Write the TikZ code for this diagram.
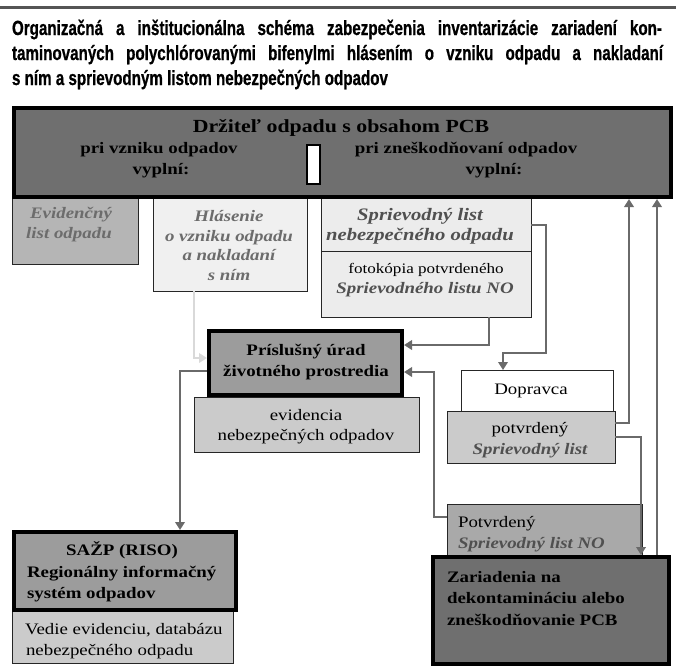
\documentclass[tikz,border=0pt]{standalone}
\usepackage{fontspec}
\setmainfont{Liberation Serif}
\newfontfamily\serifx{Liberation Serif}[FakeStretch=1.18]
\newfontfamily\titlefont{Liberation Sans Bold}[FakeStretch=0.74,FakeBold=0.7]
\usetikzlibrary{arrows.meta,fit}
\definecolor{dkfill}{HTML}{6F6F6F}
\definecolor{mdfill}{HTML}{9C9C9C}
\definecolor{evfill}{HTML}{B5B5B5}
\definecolor{hlfill}{HTML}{F0F0F0}
\definecolor{spfill}{HTML}{ECECEC}
\definecolor{ltfill}{HTML}{CBCBCB}
\definecolor{nofill}{HTML}{A9A9A9}
\definecolor{evtext}{HTML}{6C6C6C}
\definecolor{sptext}{HTML}{505050}
\definecolor{argray}{HTML}{6A6A6A}
\definecolor{lightar}{HTML}{D9D9D9}
\definecolor{rulegray}{HTML}{555555}
\tikzset{
  tnbox/.style={draw=black!85, line width=0.9pt, inner sep=0pt, outer sep=0pt},
  tkbox/.style={draw=black, line width=4pt, inner sep=0pt},
  lbl/.style={anchor=base, inner sep=0pt, outer sep=0pt},
  bfbig/.style={lbl, font=\serifx\bfseries\fontsize{18.5}{20}\selectfont},
  bf/.style={lbl, font=\serifx\bfseries\fontsize{16}{18}\selectfont},
  bi/.style={lbl, font=\serifx\bfseries\itshape\fontsize{16}{18}\selectfont},
  bibig/.style={lbl, font=\serifx\bfseries\itshape\fontsize{17.5}{19}\selectfont},
  rm/.style={lbl, font=\serifx\fontsize{16}{18}\selectfont},
  rmsmall/.style={lbl, font=\serifx\fontsize{14.5}{16}\selectfont},
  ttl/.style={anchor=base west, inner sep=0pt, outer sep=0pt, font=\titlefont\fontsize{20.5}{22}\selectfont},
  arr/.style={draw=argray, line width=2.6pt, -{Triangle[length=8pt,width=9.5pt]}},
  lightarr/.style={arr, draw=lightar},
}
\begin{document}
\begin{tikzpicture}[x=1pt,y=-1pt]
\useasboundingbox (0,0) rectangle (676,670);
% top rule
\draw[line width=3pt, rulegray] (0,7.5) -- (676,7.5);
% title
\node[ttl] (ti1) at (12,35) {\makebox[650pt][s]{Organizačná a inštitucionálna schéma zabezpečenia inventarizácie zariadení kon-}};
\node[ttl] (ti2) at (12,60) {\makebox[651pt][s]{taminovaných polychlórovanými bifenylmi hlásením o vzniku odpadu a nakladaní}};
\node[ttl] (ti3) at (12,85) {s ním a sprievodným listom nebezpečných odpadov};
% thin boxes
\node[tnbox, fill=evfill, fit={(12,197) (138,264)}] (evid) {};
\node[tnbox, fill=hlfill, fit={(153,197) (307,291)}] (hlas) {};
\node[tnbox, fill=spfill, fit={(321,197) (531,317)}] (spriev) {};
\draw[draw=black!85, line width=0.9pt] (spriev.west |- 0,251) -- (spriev.east |- 0,251);
\node[tnbox, fill=ltfill, fit={(194,397) (419,452)}] (evd) {};
\node[tnbox, fill=ltfill, fit={(12,610) (233,663)}] (vedie) {};
\node[tnbox, fill=white, fit={(461,370) (613,411)}] (doprav) {};
\node[tnbox, fill=ltfill, fit={(447,411) (615,463)}] (potv) {};
\node[tnbox, fill=nofill, fit={(447,504) (642,557)}] (potvNO) {};
% thick boxes
\node[tkbox, fill=dkfill, fit={(14,108) (671,197)}] (top) {};
\node[tkbox, fill=mdfill, fit={(209,331) (402,395)}] (prisl) {};
\node[tkbox, fill=mdfill, fit={(14,532) (236,610)}] (sazp) {};
\node[tkbox, fill=dkfill, fit={(433,557) (669,664)}] (zar) {};
\node[draw=black, line width=1.2pt, fill=white, inner sep=0pt, fit={(307,145) (320,184)}] (wbox) {};
% texts in top box
\node[bfbig] (tDrz) at (341,132) {Držiteľ odpadu s obsahom PCB};
\node[bf] (t1) at (159,153) {pri vzniku odpadov};
\node[bf] (t2) at (161,174) {vyplní:};
\node[bf] (t3) at (466,153) {pri zneškodňovaní odpadov};
\node[bf] (t4) at (494,174) {vyplní:};
% Evidencny list
\node[bi, text=evtext] (e1) at (71,218) {Evidenčný};
\node[bi, text=evtext] (e2) at (69,238) {list odpadu};
% Hlasenie
\node[bi, text=evtext] (h1) at (229,221) {Hlásenie};
\node[bi, text=evtext] (h2) at (229,241) {o vzniku odpadu};
\node[bi, text=evtext] (h3) at (229,260) {a nakladaní};
\node[bi, text=evtext] (h4) at (229,280) {s ním};
% Sprievodny list
\node[bibig, text=sptext] (s1) at (420,220) {Sprievodný list};
\node[bibig, text=sptext] (s2) at (420,240) {nebezpečného odpadu};
\node[rmsmall] (s3) at (426,273) {fotokópia potvrdeného};
\node[bi, text=sptext] (s4) at (425,293) {Sprievodného listu NO};
% Prislusny urad
\node[bf] (p1) at (306,355) {Príslušný úrad};
\node[bf] (p2) at (306,376) {životného prostredia};
\node[rm] (v1) at (306,420) {evidencia};
\node[rm] (v2) at (306,440) {nebezpečných odpadov};
% SAZP
\node[bf] (z1) at (122,555) {SAŽP (RISO)};
\node[bf, anchor=base west] (z2) at (27,577) {Regionálny informačný};
\node[bf, anchor=base west] (z3) at (27,598) {systém odpadov};
\node[rm, anchor=base west] (d1) at (25,634) {Vedie evidenciu, databázu};
\node[rm, anchor=base west] (d2) at (26,655) {nebezpečného odpadu};
% Dopravca
\node[rm] (o1) at (531,394) {Dopravca};
\node[rm] (q1) at (530,433) {potvrdený};
\node[bi, text=sptext] (q2) at (530,454) {Sprievodný list};
% Potvrdeny NO
\node[rm, anchor=base west] (n1) at (458,527) {Potvrdený};
\node[bi, text=sptext, anchor=base west] (n2) at (458,548) {Sprievodný list NO};
% Zariadenia
\node[bf, anchor=base west] (r1) at (447,582) {Zariadenia na};
\node[bf, anchor=base west] (r2) at (447,603) {dekontamináciu alebo};
\node[bf, anchor=base west] (r3) at (447,625) {zneškodňovanie PCB};
% connectors
\draw[lightarr] (hlas.south -| 194,0) |- (prisl.west |- 0,358);
\draw[arr] (prisl.west |- 0,371) -| (sazp.north -| 180,0);
\draw[arr] (spriev.south -| 489,0) |- (prisl.east |- 0,345);
\draw[arr] (spriev.east |- 0,225) -| (546,353) -| (doprav.north -| 503,0);
\draw[arr] (potv.east |- 0,423) -| (top.south -| 629,0);
\draw[arr] (zar.north -| 657,0) -- (top.south -| 657,0);
\draw[arr] (potv.east |- 0,437) -| (zar.north -| 641,0);
\draw[arr] (potvNO.west |- 0,517) -| (434,372) -- (prisl.east |- 0,372);
\end{tikzpicture}
\end{document}
